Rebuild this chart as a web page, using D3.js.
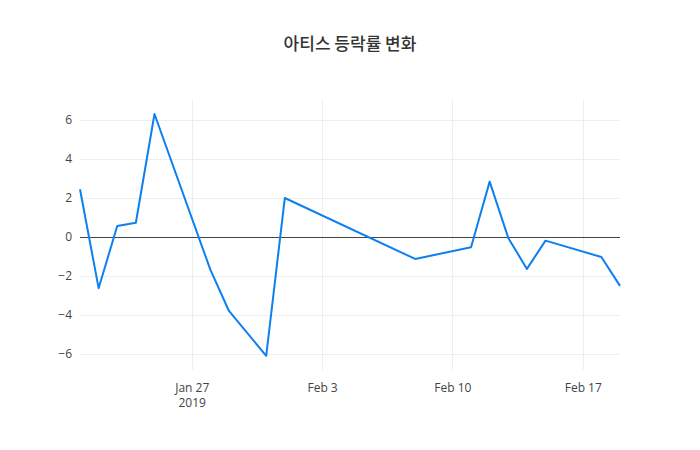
<!DOCTYPE html>
<html>
<head>
<meta charset="utf-8">
<script src="https://cdn.jsdelivr.net/npm/d3@7"></script>
<style>
  body { margin: 0; background: #fff; }
  svg text { font-family: "Open Sans", "Noto Sans", sans-serif; }
</style>
</head>
<body>
<div id="chart"></div>
<script>
// 아티스 daily change rate (%)
const dates = [
  "2019-01-21", "2019-01-22", "2019-01-23", "2019-01-24", "2019-01-25",
  "2019-01-28", "2019-01-29", "2019-01-31", "2019-02-01", "2019-02-08",
  "2019-02-11", "2019-02-12", "2019-02-13", "2019-02-14", "2019-02-15",
  "2019-02-18", "2019-02-19"
];
const changes = [
  2.45, -2.63, 0.56, 0.73, 6.31,
  -1.68, -3.8, -6.1, 2.0, -1.13,
  -0.53, 2.84, -0.05, -1.64, -0.19,
  -1.03, -2.51
];
const yTicks = [-6, -4, -2, 0, 2, 4, 6];
const xTicks = ["2019-01-27", "2019-02-03", "2019-02-10", "2019-02-17"];
const title = "아티스 등락률 변화";

const W = 700, H = 450;
const margin = { top: 100, right: 80, bottom: 80, left: 80 };
const parse = d3.timeParse("%Y-%m-%d");

const data = dates.map((d, i) => ({ date: parse(d), value: changes[i] }));

const svg = d3.select("#chart").append("svg")
  .attr("width", W)
  .attr("height", H);

const x = d3.scaleTime()
  .domain(d3.extent(data, (d) => d.date))
  .range([margin.left, W - margin.right]);

const y = d3.scaleLinear()
  .domain([-6.83, 7.03])
  .range([H - margin.bottom, margin.top]);

const snap = (v) => Math.round(v) + 0.5;

// grid
const grid = svg.append("g");
grid.selectAll(".vgrid")
  .data(xTicks.map(parse))
  .join("line")
  .attr("x1", (d) => snap(x(d)))
  .attr("x2", (d) => snap(x(d)))
  .attr("y1", margin.top)
  .attr("y2", H - margin.bottom)
  .attr("stroke", "#eee")
  .attr("stroke-width", 1);
grid.selectAll(".hgrid")
  .data(yTicks)
  .join("line")
  .attr("x1", margin.left)
  .attr("x2", W - margin.right)
  .attr("y1", (d) => snap(y(d)))
  .attr("y2", (d) => snap(y(d)))
  .attr("stroke", (d) => (d === 0 ? "#444" : "#eee"))
  .attr("stroke-width", 1);

// y axis
const yAxis = d3.axisLeft(y)
  .tickValues(yTicks)
  .tickSize(0)
  .tickPadding(8)
  .tickFormat((d) => (d < 0 ? "\u2212" + Math.abs(d) : d));
svg.append("g")
  .attr("transform", `translate(${margin.left},0)`)
  .call(yAxis)
  .call((g) => g.select(".domain").remove())
  .call((g) => g.selectAll("text").attr("font-size", 12).attr("fill", "#444")
    .attr("font-family", "Open Sans"));

// x axis
const xAxis = d3.axisBottom(x)
  .tickValues(xTicks.map(parse))
  .tickSize(0)
  .tickPadding(13)
  .tickFormat(d3.timeFormat("%b %-d"));
const xg = svg.append("g")
  .attr("transform", `translate(0,${H - margin.bottom})`)
  .call(xAxis)
  .call((g) => g.select(".domain").remove());
xg.selectAll("text").attr("font-size", 12).attr("fill", "#444")
  .attr("font-family", "Open Sans");
xg.select(".tick text")
  .append("tspan")
  .attr("x", 0)
  .attr("dy", "1.3em")
  .text("2019");

// line
const line = d3.line()
  .x((d) => x(d.date))
  .y((d) => y(d.value));

svg.append("path")
  .datum(data)
  .attr("fill", "none")
  .attr("stroke", "#0d80f0")
  .attr("stroke-width", 2)
  .attr("stroke-linejoin", "round")
  .attr("d", line);

// title
svg.append("text")
  .attr("x", W / 2)
  .attr("y", 50)
  .attr("text-anchor", "middle")
  .attr("font-size", 17)
  .attr("font-weight", 500)
  .attr("fill", "#333")
  .style("font-family", '"Noto Sans CJK KR", sans-serif')
  .text(title);
</script>
</body>
</html>
